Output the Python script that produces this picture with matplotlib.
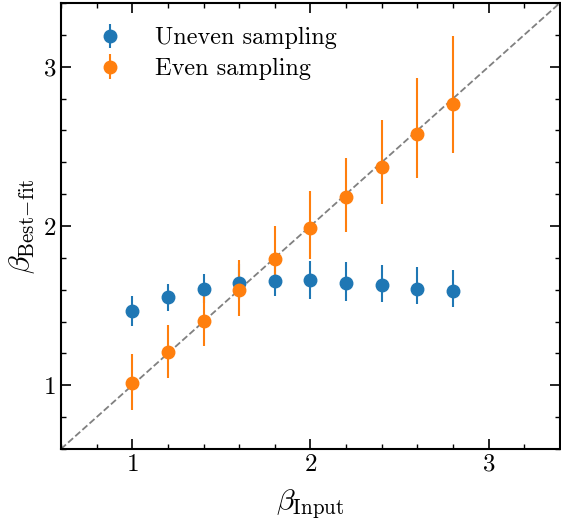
import numpy as np
import matplotlib.pyplot as plt
from matplotlib.ticker import MultipleLocator

plt.rcParams['font.family'] = 'serif'
plt.rcParams['font.serif'] = ['cmr10']
plt.rcParams['mathtext.fontset'] = 'cm'
plt.rcParams['axes.formatter.use_mathtext'] = True

# --- Data ---
beta_input = [1.0, 1.2, 1.4, 1.6, 1.8, 2.0, 2.2, 2.4, 2.6, 2.8]

uneven_fit = [1.466, 1.554, 1.606, 1.641, 1.654, 1.658, 1.641, 1.627, 1.606, 1.591]
uneven_lo = [0.092, 0.09, 0.09, 0.10, 0.096, 0.115, 0.11, 0.105, 0.098, 0.10]
uneven_hi = [0.092, 0.084, 0.094, 0.12, 0.12, 0.125, 0.13, 0.13, 0.136, 0.13]

even_fit = [1.014, 1.211, 1.403, 1.596, 1.794, 1.989, 2.179, 2.369, 2.578, 2.764]
even_lo = [0.171, 0.163, 0.157, 0.161, 0.175, 0.194, 0.218, 0.229, 0.278, 0.305]
even_hi = [0.180, 0.165, 0.163, 0.188, 0.209, 0.228, 0.25, 0.297, 0.351, 0.431]

fig = plt.figure(figsize=(5.61, 5.26), dpi=100)
ax = fig.add_axes([0.1087, 0.1464, 0.8893, 0.8479])

lims = (0.6, 3.4)
ax.plot(lims, lims, ls='--', color='gray', lw=1.3, zorder=1)

ax.errorbar(beta_input, uneven_fit, yerr=[uneven_lo, uneven_hi], fmt='o',
            color='tab:blue', ms=9, elinewidth=1.5, capsize=0,
            label='Uneven sampling', zorder=3)
ax.errorbar(beta_input, even_fit, yerr=[even_lo, even_hi], fmt='o',
            color='tab:orange', ms=9, elinewidth=1.5, capsize=0,
            label='Even sampling', zorder=3)

ax.set_xlim(lims)
ax.set_ylim(lims)
ax.xaxis.set_major_locator(MultipleLocator(1))
ax.yaxis.set_major_locator(MultipleLocator(1))
ax.xaxis.set_minor_locator(MultipleLocator(0.2))
ax.yaxis.set_minor_locator(MultipleLocator(0.2))
ax.tick_params(which='both', direction='in', top=True, right=True, labelsize=18)
ax.tick_params(which='major', length=7, width=1.2)
ax.tick_params(which='minor', length=3.5, width=1.0)
for sp in ax.spines.values():
    sp.set_linewidth(1.5)

ax.set_xlabel(r'$\beta_{\rm Input}$', fontsize=21.5, labelpad=8)
ax.set_ylabel(r'$\beta_{\mathrm{Best}\!-\!\mathrm{fit}}$', fontsize=21.5, labelpad=4)

ax.legend(loc='upper left', frameon=False, fontsize=17.5,
          borderaxespad=0.6, handletextpad=0.85, labelspacing=0.35)

fig.savefig('out.png', dpi=100)
